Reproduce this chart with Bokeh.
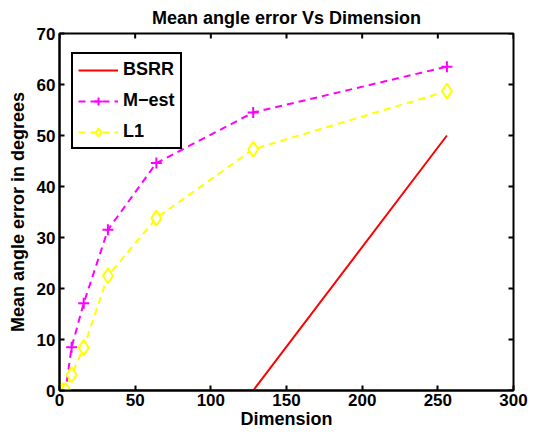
import math
from bokeh.plotting import figure
from bokeh.models import Range1d, Legend, LegendItem, FixedTicker
from bokeh.embed import file_html
from bokeh.resources import INLINE

# Data
dims = [2, 4, 8, 16, 32, 64, 128, 256]
bsrr = [0, 0, 0, 0, 0, 0, 0, 50]
m_est = [0, 0, 8.5, 17.1, 31.5, 44.6, 54.5, 63.5]
l1 = [0, 0, 3.1, 8.4, 22.5, 33.8, 47.3, 58.7]
x_ticks = [0, 50, 100, 150, 200, 250, 300]
y_ticks = [0, 10, 20, 30, 40, 50, 60, 70]
x_lim = (0, 300)
y_lim = (0, 70)

FONT = "Liberation Sans"

p = figure(width=536, height=432, output_backend="svg", toolbar_location=None,
           x_range=Range1d(*x_lim), y_range=Range1d(*y_lim),
           title="Mean angle error Vs Dimension",
           min_border_left=59, min_border_right=23, min_border_top=32, min_border_bottom=42)

p.title.text_font = FONT
p.title.text_font_size = "18px"
p.title.text_font_style = "bold"
p.title.text_color = "black"
p.title.align = "center"
p.title.standoff = 11

p.xgrid.visible = False
p.ygrid.visible = False
p.outline_line_color = "black"
p.outline_line_width = 2
p.outline_line_alpha = 1

def style_axis(ax, ticks):
    ax.ticker = FixedTicker(ticks=ticks)
    ax.major_tick_in = 5
    ax.major_tick_out = 0
    ax.minor_tick_in = 0
    ax.minor_tick_out = 0
    ax.major_tick_line_width = 2
    ax.major_tick_line_color = "black"
    ax.axis_line_width = 2
    ax.axis_line_color = "black"
    ax.major_label_text_font = FONT
    ax.major_label_text_font_style = "bold"
    ax.major_label_text_color = "black"
    ax.major_label_text_font_size = "17px"
    ax.major_label_standoff = 4
    ax.axis_label_text_font = FONT
    ax.axis_label_text_font_style = "bold"
    ax.axis_label_text_font_size = "18px"
    ax.axis_label_text_color = "black"
    ax.axis_label_standoff = 6

style_axis(p.xaxis[0], x_ticks)
style_axis(p.yaxis[0], y_ticks)
p.yaxis[0].axis_label = "Mean angle error in degrees"
p.xaxis[0].axis_label = "Dimension"
p.xaxis[0].major_label_standoff = 3
p.xaxis[0].axis_label_standoff = 0

# inward ticks on the top and right edges of the box
p.ray(x=x_ticks, y=[y_lim[1]] * len(x_ticks), length=5, length_units="screen",
      angle=-math.pi / 2, line_color="black", line_width=2)
p.ray(x=[x_lim[1]] * len(y_ticks), y=y_ticks, length=5, length_units="screen",
      angle=math.pi, line_color="black", line_width=2)

r_b = p.line(dims, bsrr, line_color="#FF0000", line_width=2)

r_m = p.line(dims, m_est, line_color="#FF00FF", line_width=2, line_dash="7 5")
s_m = p.scatter(dims, m_est, marker="cross", size=11, line_color="#FF00FF",
                line_width=2)

r_l = p.line(dims, l1, line_color="#FFFF00", line_width=2, line_dash="7 5")
s_l = p.scatter(dims, l1, marker="diamond", size=15, line_color="#FFFF00",
                fill_color="white", line_width=2)

legend = Legend(items=[
    LegendItem(label="BSRR", renderers=[r_b]),
    LegendItem(label="M\u2212est", renderers=[r_m, s_m]),
    LegendItem(label="L1", renderers=[r_l, s_l]),
], location=(12, 241))
legend.label_text_font = FONT
legend.label_text_font_style = "bold"
legend.label_text_font_size = "18px"
legend.label_text_color = "black"
legend.border_line_color = "black"
legend.border_line_width = 2
legend.border_line_alpha = 1
legend.background_fill_color = "white"
legend.background_fill_alpha = 1
legend.glyph_width = 40
legend.glyph_height = 20
legend.label_height = 20
legend.label_standoff = 5
legend.spacing = 10
legend.padding = 5
legend.margin = 0
p.add_layout(legend, "center")

open("out.html", "w").write(file_html(p, INLINE))
